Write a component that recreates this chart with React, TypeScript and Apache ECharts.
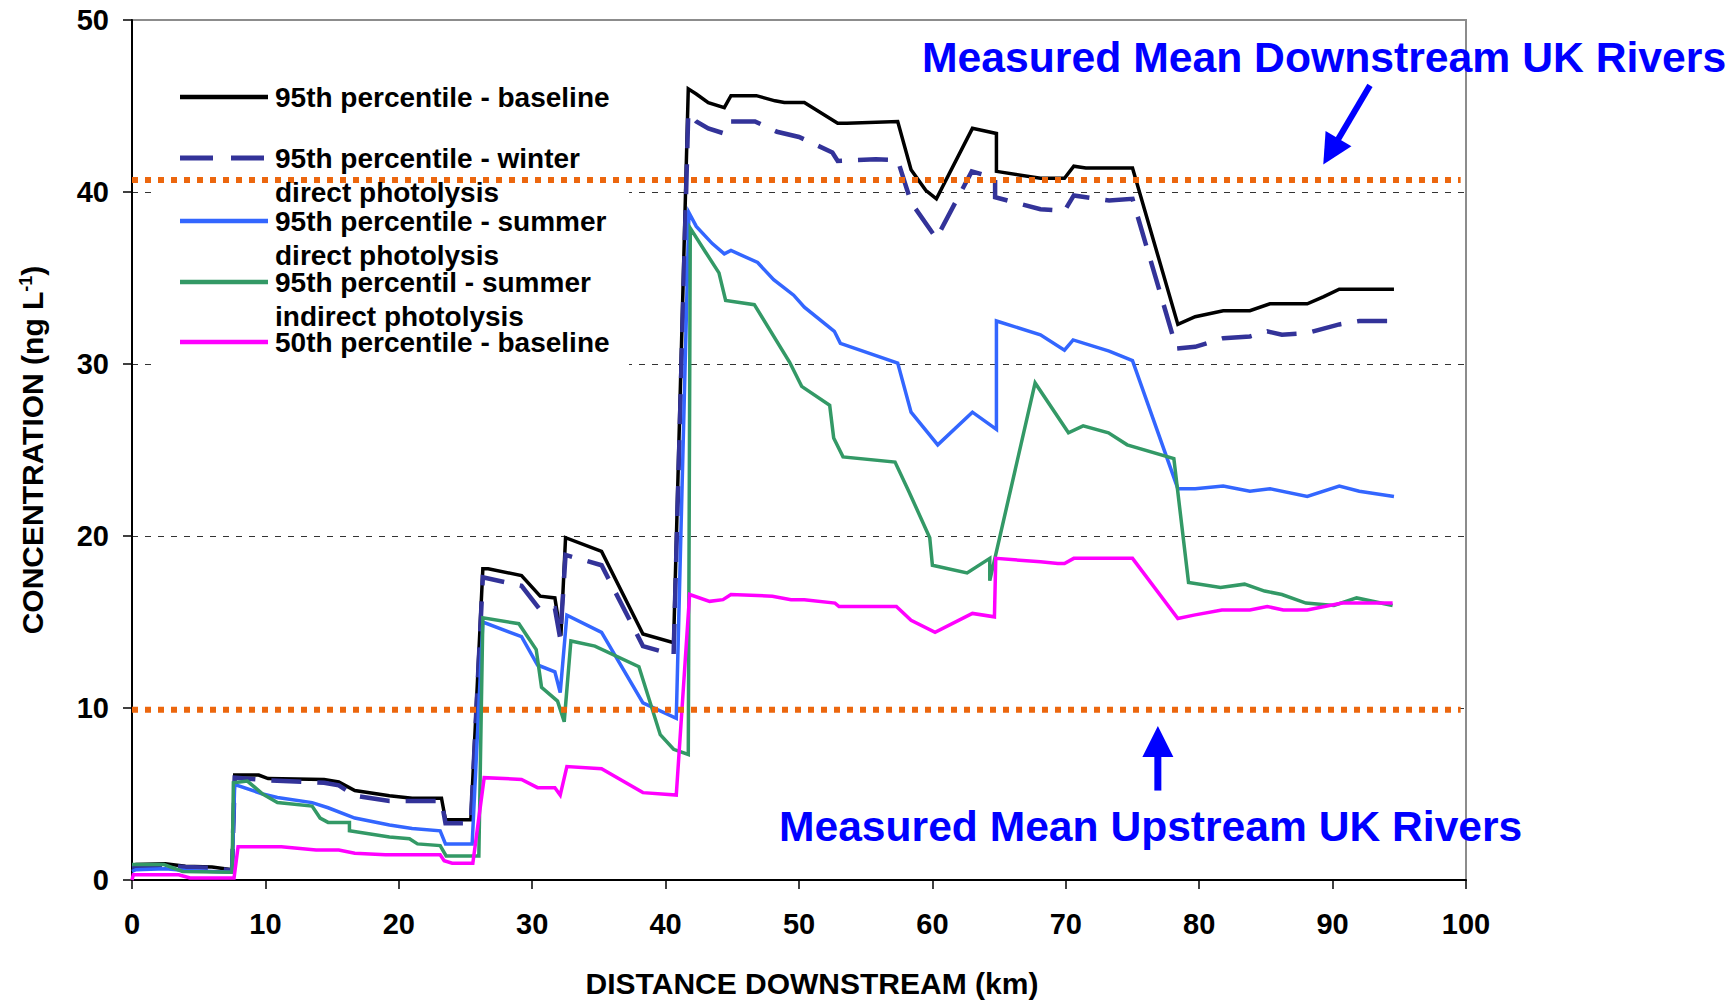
import React, { useEffect, useRef } from "react";
import * as echarts from "echarts";

const FONT = '"Liberation Sans", Arial, Helvetica, sans-serif';

// Series names (legend texts)
const legendLines: string[][] = [
  ["95th percentile - baseline"],
  ["95th percentile - winter", "direct photolysis"],
  ["95th percentile - summer", "direct photolysis"],
  ["95th percentil - summer", "indirect photolysis"],
  ["50th percentile - baseline"],
];

// [distance downstream (km), concentration (ng/L)]
const baseline95: [number, number][] = [
  [0, 0.8], [0.3, 0.9], [2.5, 0.95], [4, 0.8], [6, 0.75], [7.5, 0.6], [7.7, 6.1], [9.5, 6.1],
  [10.2, 5.9], [14.4, 5.85], [15.5, 5.7], [16.7, 5.2], [19.3, 4.9], [21, 4.75], [23.2, 4.75],
  [23.5, 3.5], [25.4, 3.5], [26.3, 18.1], [26.7, 18.1], [29.2, 17.7], [30.6, 16.5], [31.7, 16.4],
  [32.15, 14.2], [32.5, 19.9], [35.2, 19.1], [38.3, 14.3], [40.6, 13.8], [41.7, 46.0], [42.3, 45.7],
  [43.2, 45.2], [44.4, 44.9], [44.9, 45.6], [46.8, 45.6], [48.2, 45.3], [48.9, 45.2], [50.4, 45.2],
  [52.9, 44.0], [53.6, 44.0], [57.4, 44.1], [58.4, 41.3], [59.5, 40.1], [60.3, 39.6], [63.0, 43.7],
  [64.8, 43.4], [64.8, 41.2], [68.1, 40.8], [69.9, 40.8], [70.6, 41.5], [71.5, 41.4], [75.0, 41.4],
  [78.4, 32.3], [79.7, 32.75], [81.8, 33.1], [83.8, 33.1], [85.3, 33.5], [88.1, 33.5], [89.3, 33.9],
  [90.5, 34.35], [92.0, 34.35], [94.6, 34.35],
];

const winterDirect95: [number, number][] = [
  [0, 0.75], [2.5, 0.85], [4, 0.75], [6, 0.7], [7.5, 0.55], [7.7, 5.95], [10.2, 5.8], [14.4, 5.65],
  [15.5, 5.5], [16.7, 4.9], [19.3, 4.6], [23.2, 4.6], [23.5, 3.3], [25.4, 3.3], [26.3, 17.6],
  [29.2, 17.1], [30.6, 15.7], [31.7, 15.8], [32.1, 14.05], [32.5, 18.9], [35.2, 18.3], [38.3, 13.6],
  [40.6, 13.1], [41.7, 44.6], [42.3, 44.1], [43.2, 43.7], [44.4, 43.4], [44.85, 44.1], [46.7, 44.1],
  [48.35, 43.5], [50.0, 43.2], [52.5, 42.3], [52.9, 41.8], [55.75, 41.9], [57.4, 41.85], [58.4, 39.4],
  [60.3, 37.3], [62.95, 41.2], [64.7, 40.8], [64.7, 39.7], [68.1, 39.0], [69.9, 38.9], [70.6, 39.8],
  [73.25, 39.5], [75.0, 39.6], [78.3, 30.9], [79.7, 31.0], [81.8, 31.5], [83.8, 31.6], [85.1, 31.9],
  [86.2, 31.7], [88.1, 31.8], [90.5, 32.3], [92.0, 32.5], [94.6, 32.5],
];

const summerDirect95: [number, number][] = [
  [0, 0.5], [0.3, 0.6], [2.5, 0.65], [4, 0.55], [7.5, 0.45], [7.7, 5.6], [7.9, 5.5], [9.8, 5.0],
  [10.9, 4.8], [13.5, 4.5], [14.7, 4.2], [16.7, 3.6], [19.3, 3.2], [21, 3.0], [23.1, 2.86], [23.5, 2.1],
  [25.5, 2.1], [26.3, 15.0], [29.2, 14.15], [30.4, 12.5], [31.7, 12.1], [32.1, 10.9], [32.6, 15.4],
  [35.2, 14.4], [38.3, 10.3], [40.8, 9.4], [41.75, 38.8], [42.3, 38.0], [43.5, 37.0], [44.4, 36.4],
  [44.9, 36.6], [46.9, 35.9], [48.1, 34.9], [49.6, 34.0], [50.4, 33.3], [52.65, 31.9], [53.1, 31.2],
  [57.4, 30.05], [58.4, 27.2], [60.4, 25.3], [63.0, 27.2], [64.8, 26.2], [64.8, 32.5], [68.1, 31.7],
  [69.9, 30.8], [70.55, 31.4], [73.25, 30.75], [75.0, 30.2], [78.4, 22.75], [79.7, 22.75], [81.8, 22.9],
  [83.8, 22.6], [85.3, 22.75], [88.1, 22.3], [90.5, 22.9], [92.0, 22.6], [94.6, 22.3],
];

const summerIndirect95: [number, number][] = [
  [0, 0.9], [2.4, 0.9], [3.8, 0.5], [7.5, 0.45], [7.6, 5.65], [8.65, 5.75], [9.8, 5.0], [10.9, 4.5],
  [13.5, 4.3], [14.1, 3.6], [14.7, 3.35], [16.3, 3.35], [16.3, 2.86], [19.3, 2.5], [20.8, 2.4],
  [21.4, 2.1], [23.1, 2.0], [23.55, 1.4], [26.0, 1.4], [26.3, 15.25], [29.0, 14.9], [30.3, 13.4],
  [30.7, 11.2], [31.9, 10.4], [32.4, 9.2], [32.9, 13.9], [34.7, 13.6], [38.0, 12.4], [39.6, 8.45],
  [40.6, 7.6], [41.7, 7.3], [41.85, 37.9], [43.0, 36.5], [44.0, 35.3], [44.5, 33.7], [46.65, 33.45],
  [49.3, 30.1], [50.2, 28.7], [52.3, 27.6], [52.6, 25.7], [53.3, 24.6], [57.2, 24.3], [58.2, 22.65],
  [59.8, 19.9], [60.0, 18.3], [62.6, 17.85], [64.3, 18.7], [64.3, 17.4], [67.7, 28.9], [70.2, 26.0],
  [71.3, 26.4], [73.2, 26.0], [74.6, 25.3], [78.1, 24.5], [79.2, 17.3], [81.6, 17.0], [83.4, 17.2],
  [84.9, 16.8], [86.2, 16.6], [88.0, 16.1], [90.1, 15.96], [91.8, 16.4], [94.5, 15.96],
];

const baseline50: [number, number][] = [
  [0, 0], [0.1, 0.3], [3.5, 0.3], [4.35, 0.12], [7.65, 0.12], [7.95, 1.93], [11.2, 1.93], [13.8, 1.74],
  [15.5, 1.74], [16.7, 1.56], [19.0, 1.47], [23.1, 1.47], [23.4, 1.12], [24.0, 0.98], [25.55, 0.98],
  [26.4, 5.95], [29.2, 5.85], [30.4, 5.37], [31.7, 5.37], [32.1, 4.94], [32.6, 6.6], [35.2, 6.47],
  [38.3, 5.08], [40.8, 4.94], [41.8, 16.6], [43.3, 16.2], [44.3, 16.3], [44.9, 16.6], [48.0, 16.5],
  [49.4, 16.3], [50.4, 16.3], [52.7, 16.1], [53.0, 15.9], [57.3, 15.9], [58.4, 15.1], [60.2, 14.4],
  [63.0, 15.5], [64.65, 15.3], [64.75, 18.7], [68.1, 18.5], [69.4, 18.4], [69.9, 18.4], [70.6, 18.7],
  [75.0, 18.7], [78.4, 15.2], [79.6, 15.4], [81.7, 15.7], [83.8, 15.7], [85.1, 15.9], [86.3, 15.7],
  [88.1, 15.7], [90.7, 16.1], [94.5, 16.1],
];

// Measured means (ng/L)
const downstreamMean = 40.7;
const upstreamMean = 9.9;
const meanLineSpan = [0, 99.6];

const annotationTexts = ["Measured Mean Downstream UK Rivers", "Measured Mean Upstream UK Rivers"];

const colors = ["#000000", "#333399", "#3366FF", "#339966", "#FF00FF"];
const widths = [3.5, 4.5, 3.5, 3.5, 3.5];
const orange = "#EC670E";
const blue = "#0000FF";

export default function App() {
  const ref = useRef<HTMLDivElement>(null);

  useEffect(() => {
    const chart = echarts.init(ref.current as HTMLDivElement, null, { renderer: "svg" });
    const dataSets = [baseline95, winterDirect95, summerDirect95, summerIndirect95, baseline50];

    const lineSeries = dataSets.map((d, i) => ({
      type: "line",
      name: legendLines[i].join(" "),
      data: d,
      symbol: "none",
      showSymbol: false,
      z: 3,
      lineStyle: {
        color: colors[i],
        width: widths[i],
        type: i === 1 ? [30, 16] : "solid",
        cap: "butt",
        join: "miter",
      },
    }));

    const meanSeries = [downstreamMean, upstreamMean].map((v, i) => ({
      type: "line",
      name: i === 0 ? "downstream mean" : "upstream mean",
      data: meanLineSpan.map((x) => [x, v]),
      symbol: "none",
      showSymbol: false,
      z: 4,
      lineStyle: { color: orange, width: 6, type: [6, 7], cap: "butt" },
    }));

    const bold = { fontFamily: FONT, fontWeight: "bold", color: "#000" };

    chart.setOption({
      animation: false,
      backgroundColor: "#ffffff",
      grid: {
        left: 132,
        right: 266,
        top: 20,
        bottom: 123,
        show: true,
        borderColor: "#8c8c8c",
        borderWidth: 2,
        backgroundColor: "transparent",
      },
      xAxis: {
        type: "value",
        min: 0,
        max: 100,
        interval: 10,
        name: "DISTANCE DOWNSTREAM (km)",
        nameLocation: "middle",
        nameGap: 88,
        nameTextStyle: { ...bold, fontSize: 30, padding: [0, 0, 0, 26] },
        axisLine: { lineStyle: { color: "#000", width: 2 } },
        axisTick: { show: true, length: 9, lineStyle: { color: "#000", width: 1.5 } },
        axisLabel: { ...bold, fontSize: 29, margin: 29 },
        splitLine: { show: false },
      },
      yAxis: {
        type: "value",
        min: 0,
        max: 50,
        interval: 10,
        name: "{a|CONCENTRATION (ng L}{s|-1}{a|)}",
        nameLocation: "middle",
        nameGap: 85,
        nameRotate: 90,
        nameTextStyle: {
          ...bold,
          fontSize: 30,
          rich: {
            a: { ...bold, fontSize: 30 },
            s: { ...bold, fontSize: 18, verticalAlign: "top" },
          },
        },
        axisLine: { show: true, lineStyle: { color: "#000", width: 2 } },
        axisTick: { show: true, length: 9, lineStyle: { color: "#000", width: 1.5 } },
        axisLabel: { ...bold, fontSize: 29, margin: 23 },
        splitLine: {
          show: true,
          showMinLine: false,
          showMaxLine: false,
          lineStyle: { color: "#333", width: 1, type: [6, 7] },
        },
      },
      series: [...lineSeries, ...meanSeries],
    });

    const px = (p: number[]) => chart.convertToPixel({ gridIndex: 0 }, p) as number[];

    const arrow = (tail: number[], tip: number[], headLen: number, headW: number, shaftW: number) => {
      const a = px(tail);
      const b = px(tip);
      const dx = b[0] - a[0];
      const dy = b[1] - a[1];
      const len = Math.sqrt(dx * dx + dy * dy);
      const ux = dx / len;
      const uy = dy / len;
      const bx = b[0] - ux * headLen;
      const by = b[1] - uy * headLen;
      const nx = -uy;
      const ny = ux;
      return [
        {
          type: "line",
          z: 20,
          shape: { x1: a[0], y1: a[1], x2: bx + ux * 2, y2: by + uy * 2 },
          style: { stroke: blue, lineWidth: shaftW },
        },
        {
          type: "polygon",
          z: 20,
          shape: {
            points: [
              [b[0], b[1]],
              [bx + (nx * headW) / 2, by + (ny * headW) / 2],
              [bx - (nx * headW) / 2, by - (ny * headW) / 2],
            ],
          },
          style: { fill: blue },
        },
      ];
    };

    // Legend (drawn inside the plot)
    const legendX1 = 180;
    const legendX2 = 268;
    const textX = 275;
    const rowY = [97, 158, 221, 282, 342];
    const lineGap = 34;
    const legendEls: any[] = [
      {
        type: "rect",
        z: 1,
        shape: { x: 152, y: 60, width: 477, height: 312 },
        style: { fill: "#ffffff" },
      },
    ];
    legendLines.forEach((lines, i) => {
      legendEls.push({
        type: "line",
        z: 5,
        shape: { x1: legendX1, y1: rowY[i], x2: legendX2, y2: rowY[i] },
        style: {
          stroke: colors[i],
          lineWidth: i === 1 ? 5 : 4.5,
          lineDash: i === 1 ? [33, 18] : null,
          lineCap: "butt",
        },
      });
      lines.forEach((t, j) => {
        legendEls.push({
          type: "text",
          z: 6,
          x: textX,
          y: rowY[i] + j * lineGap,
          style: {
            text: t,
            fill: "#000",
            font: `bold 28px ${FONT}`,
            lineHeight: 26,
            align: "left",
            verticalAlign: "middle",
          },
        });
      });
    });

    const annotEls: any[] = [
      {
        type: "text",
        z: 20,
        x: 922,
        y: 57,
        style: {
          text: annotationTexts[0],
          fill: blue,
          font: `bold 42.7px ${FONT}`,
          align: "left",
          verticalAlign: "middle",
        },
      },
      {
        type: "text",
        z: 20,
        x: 779,
        y: 826,
        style: {
          text: annotationTexts[1],
          fill: blue,
          font: `bold 42.6px ${FONT}`,
          align: "left",
          verticalAlign: "middle",
        },
      },
      ...arrow([92.8, 46.2], [89.3, 41.6], 30, 30, 6),
      ...arrow([76.9, 5.2], [76.9, 8.95], 31, 31, 7),
    ];

    chart.setOption({ graphic: { elements: [...legendEls, ...annotEls] } });

    return () => chart.dispose();
  }, []);

  return (
    <div
      ref={ref}
      style={{ position: "absolute", left: 0, top: 0, width: 1732, height: 1003, background: "#fff" }}
    />
  );
}
